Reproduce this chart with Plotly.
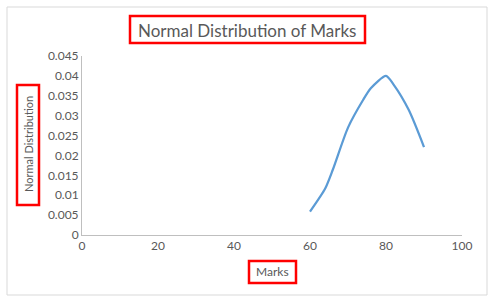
import plotly.graph_objects as go

marks = [60, 64, 66, 70, 74, 76, 80, 82, 86, 90]
norm_dist = [0.0059, 0.0117, 0.0164, 0.0270, 0.0340, 0.0369, 0.0400, 0.0378, 0.0314, 0.0221]

title_text = "Normal Distribution of Marks"
x_title = "Marks"
y_title = "Normal Distribution"

FONT = "Lato, Carlito, Calibri, sans-serif"
GRAY = "#595959"

W, H = 497, 302
l, r, t, b = 82, 35, 56, 67
pw, ph = W - l - r, H - t - b

fig = go.Figure()
fig.add_trace(go.Scatter(
    x=marks, y=norm_dist, mode="lines",
    line=dict(color="#5B9BD5", width=2.25, shape="spline", smoothing=0.7),
    hoverinfo="x+y", showlegend=False,
))

def ann(text, px, py, size, angle=0):
    return dict(text=text, xref="paper", yref="paper",
                x=(px - l) / pw, y=(H - b - py) / ph,
                xanchor="center", yanchor="middle", showarrow=False,
                textangle=angle, font=dict(size=size, color=GRAY, family=FONT))

def px_rect(x0, y0, x1, y1, color, width):
    return dict(type="rect", xref="paper", yref="paper",
                x0=(x0 - l) / pw, x1=(x1 - l) / pw,
                y0=(H - b - y0) / ph, y1=(H - b - y1) / ph,
                line=dict(color=color, width=width), fillcolor="rgba(0,0,0,0)", layer="above")

fig.update_layout(
    width=W, height=H,
    margin=dict(l=l, r=r, t=t, b=b),
    paper_bgcolor="white", plot_bgcolor="white",
    font=dict(family=FONT, color=GRAY, size=12),
    xaxis=dict(range=[0, 100], dtick=20, showgrid=False, zeroline=False,
               showline=True, linecolor="#BFBFBF", linewidth=1, ticks="",
               tickfont=dict(size=12, color=GRAY), fixedrange=True),
    yaxis=dict(range=[0, 0.045], dtick=0.005, showgrid=False, zeroline=False,
               showline=True, linecolor="#BFBFBF", linewidth=1, ticks="",
               tickfont=dict(size=12, color=GRAY), fixedrange=True),
    annotations=[
        ann(title_text, 247, 30, 17),
        ann(x_title, 272, 271, 12),
        ann(y_title, 28, 144, 11, -90),
    ],
    shapes=[
        px_rect(7, 7, 487, 295, "#D9D9D9", 1),
        px_rect(130, 16, 365, 43, "#FF0000", 2.5),
        px_rect(17, 85, 39, 205, "#FF0000", 2.5),
        px_rect(249, 261, 296, 283, "#FF0000", 2.5),
    ],
)

fig.write_html("out.html")
